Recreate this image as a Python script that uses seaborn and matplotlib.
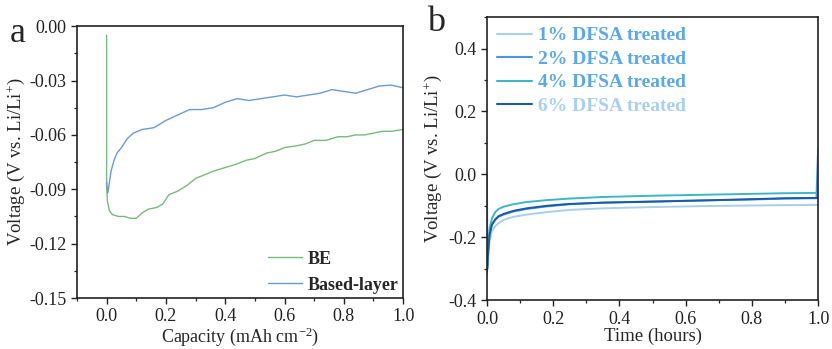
import matplotlib
matplotlib.use("Agg")
import matplotlib.pyplot as plt
import seaborn as sns
import pandas as pd
from matplotlib.ticker import MultipleLocator

# ---------------- data ----------------
be_x = [0.0, 0.0, 0.003, 0.01, 0.02, 0.04, 0.06, 0.08, 0.10, 0.12, 0.14, 0.17, 0.19,
        0.21, 0.24, 0.27, 0.30, 0.33, 0.36, 0.40, 0.44, 0.47, 0.50, 0.54, 0.57, 0.60,
        0.64, 0.67, 0.70, 0.74, 0.78, 0.81, 0.84, 0.87, 0.90, 0.93, 0.96, 1.0]
be_y = [-0.005, -0.088, -0.097, -0.102, -0.104, -0.105, -0.105, -0.106, -0.106, -0.103,
        -0.101, -0.100, -0.098, -0.093, -0.091, -0.088, -0.084, -0.082, -0.080, -0.078,
        -0.076, -0.074, -0.073, -0.070, -0.069, -0.067, -0.066, -0.065, -0.063, -0.063,
        -0.061, -0.061, -0.060, -0.060, -0.059, -0.058, -0.058, -0.057]

bl_x = [0.0, 0.004, 0.008, 0.015, 0.025, 0.035, 0.05, 0.07, 0.09, 0.12, 0.16, 0.20,
        0.24, 0.28, 0.32, 0.36, 0.40, 0.44, 0.48, 0.52, 0.56, 0.60, 0.64, 0.68, 0.72,
        0.76, 0.80, 0.84, 0.88, 0.92, 0.96, 1.0]
bl_y = [-0.086, -0.092, -0.088, -0.080, -0.074, -0.070, -0.067, -0.062, -0.059, -0.057,
        -0.056, -0.052, -0.049, -0.046, -0.046, -0.045, -0.042, -0.040, -0.041, -0.040,
        -0.039, -0.038, -0.039, -0.038, -0.037, -0.035, -0.036, -0.037, -0.035, -0.033,
        -0.0325, -0.034]

t_hours = [0.0, 0.001, 0.004, 0.008, 0.015, 0.025, 0.035, 0.05, 0.08, 0.12, 0.18,
           0.25, 0.35, 0.5, 0.65, 0.8, 0.9, 0.995, 1.0]
v_1pct = [-0.32, -0.30, -0.26, -0.21, -0.18, -0.165, -0.155, -0.145, -0.135, -0.128,
          -0.12, -0.113, -0.108, -0.104, -0.101, -0.099, -0.098, -0.097, -0.097]
v_2pct = [0.0, -0.30, -0.24, -0.19, -0.16, -0.145, -0.135, -0.128, -0.118, -0.110,
          -0.102, -0.095, -0.090, -0.086, -0.083, -0.080, -0.077, -0.076, 0.08]
v_4pct = [-0.30, -0.28, -0.22, -0.17, -0.14, -0.12, -0.110, -0.103, -0.095, -0.088,
          -0.082, -0.077, -0.072, -0.068, -0.065, -0.062, -0.060, -0.059, -0.059]
v_6pct = [-0.31, -0.29, -0.24, -0.19, -0.16, -0.143, -0.133, -0.126, -0.116, -0.108,
          -0.100, -0.094, -0.090, -0.087, -0.083, -0.079, -0.076, -0.075, -0.075]

labels_a = ["BE", "Based-layer"]
labels_b = ["1% DFSA treated", "2% DFSA treated", "4% DFSA treated", "6% DFSA treated"]

# ---------------- style ----------------
sns.set_style("ticks")
plt.rcParams["font.family"] = ["Liberation Serif", "DejaVu Serif"]
plt.rcParams["mathtext.fontset"] = "custom"
plt.rcParams["mathtext.rm"] = "Liberation Serif"
plt.rcParams["mathtext.it"] = "Liberation Serif:italic"
plt.rcParams["mathtext.bf"] = "Liberation Serif:bold"

cols_a = ["#79bb7c", "#6a9bd4"]
cols_b = ["#a9cfea", "#4597e0", "#3fb6c6", "#1b5aa6"]
text_cols_b = ["#5aa8ee", "#5aa8ee", "#5aa8ee", "#a8d0f4"]

fig = plt.figure(figsize=(8.32, 3.49), dpi=100)
ax1 = fig.add_axes([0.0925, 0.146, 0.392, 0.779])
ax2 = fig.add_axes([0.5853, 0.140, 0.398, 0.811])

df_a = pd.concat([
    pd.DataFrame({"x": be_x, "y": be_y, "s": labels_a[0]}),
    pd.DataFrame({"x": bl_x, "y": bl_y, "s": labels_a[1]}),
], ignore_index=True)
sns.lineplot(data=df_a, x="x", y="y", hue="s", palette=cols_a, sort=False,
             estimator=None, linewidth=1.0, ax=ax1)

df_b = pd.concat([
    pd.DataFrame({"x": t_hours, "y": v, "s": lab})
    for v, lab in zip([v_1pct, v_2pct, v_4pct, v_6pct], labels_b)
], ignore_index=True)
sns.lineplot(data=df_b, x="x", y="y", hue="s", palette=cols_b, sort=False,
             estimator=None, linewidth=1.4, ax=ax2)

for ax in (ax1, ax2):
    for sp in ax.spines.values():
        sp.set_linewidth(1.2)
        sp.set_color("#222222")
    ax.tick_params(axis="both", which="major", direction="out", length=4, width=1.0,
                   labelsize=13, colors="#222222")
    ax.tick_params(axis="both", which="minor", direction="out", length=2, width=0.9,
                   colors="#222222")

# panel a
ax1.set_xlim(-0.1, 1.0)
ax1.set_ylim(-0.15, 0.0)
ax1.xaxis.set_minor_locator(MultipleLocator(0.1))
ax1.yaxis.set_minor_locator(MultipleLocator(0.015))
ax1.set_yticks([0.0, -0.03, -0.06, -0.09, -0.12, -0.15])
ax1.set_yticklabels(["0.00", "-0.03", "-0.06", "-0.09", "-0.12", "-0.15"])
ax1.set_xticks([0.0, 0.2, 0.4, 0.6, 0.8, 1.0])
ax1.set_xticklabels(["0.0", "0.2", "0.4", "0.6", "0.8", "1.0"])
ax1.set_xlabel("Capacity (mAh cm$^{\\mathregular{-2}}$)", fontsize=13, labelpad=0)
ax1.set_ylabel("Voltage (V vs. Li/Li$^{+}$)", fontsize=13.5, labelpad=2)
leg1 = ax1.legend(loc="lower right", frameon=False, prop={"weight": "bold", "size": 13},
                  handlelength=1.9, handletextpad=0.3, borderaxespad=0.05,
                  labelspacing=0.5, borderpad=0.2)
for line in leg1.get_lines():
    line.set_linewidth(1.0)
fig.text(0.012, 0.905, "a", fontsize=26, ha="left", va="center")

# panel b
ax2.set_xlim(0.0, 1.0)
ax2.set_ylim(-0.4, 0.5)
ax2.set_xticks([0.0, 0.2, 0.4, 0.6, 0.8, 1.0])
ax2.set_xticklabels(["0.0", "0.2", "0.4", "0.6", "0.8", "1.0"])
ax2.xaxis.set_minor_locator(MultipleLocator(0.1))
ax2.set_yticks([-0.4, -0.2, 0.0, 0.2, 0.4])
ax2.set_yticklabels(["-0.4", "-0.2", "0.0", "0.2", "0.4"])
ax2.yaxis.set_minor_locator(MultipleLocator(0.1))
ax2.set_xlabel("Time (hours)", fontsize=13.5, labelpad=0)
ax2.set_ylabel("Voltage (V vs. Li/Li$^{+}$)", fontsize=13.5, labelpad=3)
leg2 = ax2.legend(loc="upper left", frameon=False, prop={"weight": "bold", "size": 14},
                  handlelength=1.8, handletextpad=0.3, borderaxespad=0.1, labelspacing=0.3)
for line in leg2.get_lines():
    line.set_linewidth(1.5)
for txt, c in zip(leg2.get_texts(), text_cols_b):
    txt.set_color(c)
fig.text(0.513, 0.935, "b", fontsize=26, ha="left", va="center")

fig.savefig("out.png", dpi=100)
